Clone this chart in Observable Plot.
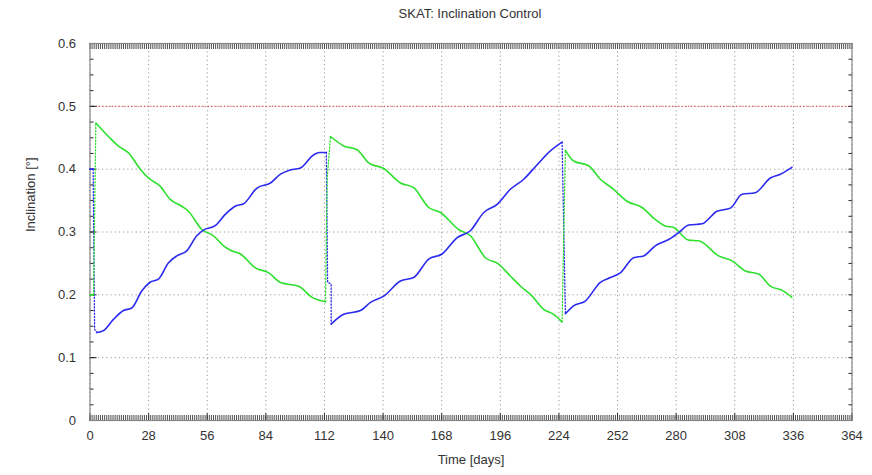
<!DOCTYPE html>
<html>
<head>
<meta charset="utf-8">
<script src="https://cdn.jsdelivr.net/npm/d3@7"></script>
<script src="https://cdn.jsdelivr.net/npm/@observablehq/plot@0.6"></script>
<style>
  body { margin: 0; background: #fff; font-family: "Liberation Sans Narrow", "Liberation Sans", Arial, sans-serif; }
  #wrap { position: relative; width: 872px; height: 475px; }
  #title { position: absolute; top: 6px; left: 470px; transform: translateX(-50%); font-size: 13px; color: #333; white-space: nowrap; }
  #chart { position: absolute; top: 30px; left: 0; }
</style>
</head>
<body>
<div id="wrap">
  <div id="title">SKAT: Inclination Control</div>
  <div id="chart"></div>
</div>
<script>
// ---- data ----
const xTicks = [0, 28, 56, 84, 112, 140, 168, 196, 224, 252, 280, 308, 336, 364];
const yTicks = [0, 0.1, 0.2, 0.3, 0.4, 0.5, 0.6];
const limit = 0.5;

// blue series: solid arcs (arc id per point)
const blueDay = [0, 1.5,
  3.3, 6.4, 11.2, 16, 20, 24.7, 28.7, 32.7, 37.5, 41.5, 46.2, 51, 54.2, 59.8, 64.6, 69.3, 73.4, 79.8, 86.2, 91, 94.9, 100.5, 106.9, 109.7, 112.9,
  115.2, 121.2, 129.2, 134, 140.3, 148.3, 154.6, 161.8, 168.2, 175.4, 181.7, 188.1, 194.5, 200.8, 207.2, 213.6, 219.9, 225.5,
  227.1, 231, 236.6, 243.8, 248.6, 253.3, 259.7, 264.5, 270, 276.4, 281.2, 286, 292.4, 299.5, 305.9, 311.5, 317.8, 325, 329.8, 335.3];
const blueInc = [0.4, 0.4,
  0.140, 0.143, 0.161, 0.175, 0.179, 0.206, 0.220, 0.225, 0.251, 0.262, 0.270, 0.294, 0.303, 0.310, 0.328, 0.341, 0.345, 0.370, 0.378, 0.392, 0.398, 0.402, 0.423, 0.4265, 0.4265,
  0.1535, 0.169, 0.175, 0.188, 0.198, 0.222, 0.2275, 0.257, 0.265, 0.291, 0.302, 0.331, 0.344, 0.368, 0.384, 0.407, 0.429, 0.443,
  0.170, 0.1825, 0.190, 0.220, 0.2275, 0.235, 0.259, 0.262, 0.278, 0.288, 0.299, 0.311, 0.313, 0.333, 0.338, 0.360, 0.3625, 0.386, 0.392, 0.403];
const blueArc = [0, 0,
  1, 1, 1, 1, 1, 1, 1, 1, 1, 1, 1, 1, 1, 1, 1, 1, 1, 1, 1, 1, 1, 1, 1, 1, 1,
  2, 2, 2, 2, 2, 2, 2, 2, 2, 2, 2, 2, 2, 2, 2, 2, 2, 2,
  3, 3, 3, 3, 3, 3, 3, 3, 3, 3, 3, 3, 3, 3, 3, 3, 3, 3, 3, 3];

// green series: solid arcs
const greenDay = [0, 1.7,
  2.8, 8.8, 13.6, 18.4, 24, 27.9, 33.5, 38.3, 43.8, 47, 53.4, 59, 63.8, 67.1, 71.9, 79, 85.4, 91, 99.7, 106.1, 112.5,
  114.9, 121.2, 127.6, 133.1, 140.3, 148.3, 154.6, 161.8, 167.4, 176.1, 181.7, 188.9, 195.2, 200.8, 205.6, 211.2, 216.7, 221.5, 225.5,
  227.1, 231, 238.2, 243.8, 250.1, 256.5, 263.7, 270, 274.8, 278.8, 286, 290.7, 300.3, 306.7, 313, 319.4, 325, 331.3, 335.3];
const greenInc = [0.2, 0.2,
  0.4735, 0.452, 0.4365, 0.426, 0.400, 0.386, 0.373, 0.352, 0.341, 0.333, 0.304, 0.294, 0.278, 0.271, 0.265, 0.243, 0.235, 0.2195, 0.2135, 0.196, 0.189,
  0.452, 0.437, 0.431, 0.410, 0.401, 0.378, 0.3705, 0.339, 0.331, 0.304, 0.294, 0.259, 0.249, 0.230, 0.214, 0.198, 0.177, 0.169, 0.157,
  0.430, 0.413, 0.4055, 0.384, 0.368, 0.349, 0.339, 0.320, 0.3095, 0.307, 0.287, 0.286, 0.262, 0.254, 0.238, 0.233, 0.214, 0.206, 0.196];
const greenArc = [0, 0,
  1, 1, 1, 1, 1, 1, 1, 1, 1, 1, 1, 1, 1, 1, 1, 1, 1, 1, 1, 1, 1,
  2, 2, 2, 2, 2, 2, 2, 2, 2, 2, 2, 2, 2, 2, 2, 2, 2, 2, 2,
  3, 3, 3, 3, 3, 3, 3, 3, 3, 3, 3, 3, 3, 3, 3, 3, 3, 3, 3];

// manoeuvre (dotted) transitions
const blueBurnDay = [1.5, 2.2, 3.3, 112.9, 113.5, 115.2, 115.2, 225.5, 227.1];
const blueBurnInc = [0.4, 0.145, 0.140, 0.4265, 0.22, 0.217, 0.1535, 0.443, 0.170];
const blueBurnId  = [0, 0, 0, 1, 1, 1, 1, 2, 2];
const greenBurnDay = [1.7, 2.8, 112.5, 113.3, 114.9, 225.5, 227.1];
const greenBurnInc = [0.2, 0.4735, 0.189, 0.386, 0.452, 0.157, 0.430];
const greenBurnId  = [0, 0, 1, 1, 1, 2, 2];

// ---- build tables ----
const mk = (xs, ys, ids) => xs.map((x, i) => ({x, y: ys[i], id: ids[i]}));
const blue = mk(blueDay, blueInc, blueArc);
const green = mk(greenDay, greenInc, greenArc);
const blueBurn = mk(blueBurnDay, blueBurnInc, blueBurnId);
const greenBurn = mk(greenBurnDay, greenBurnInc, greenBurnId);

const days = d3.range(0, 365, 1);
const yMinor = d3.range(0, 25).map(i => i * 0.025);

const BLUE = "#2a2af0";
const GREEN = "#2fe02f";

const chart = Plot.plot({
  width: 872,
  height: 445,
  marginLeft: 89.5,
  marginRight: 20.5,
  marginTop: 13,
  marginBottom: 55,
  style: { fontFamily: '"Liberation Sans Narrow", "Liberation Sans", Arial, sans-serif', fontSize: "13px", color: "#333", background: "#fff" },
  x: { domain: [0, 364] },
  y: { domain: [0, 0.6] },
  marks: [
    // grid
    Plot.gridX(xTicks, { stroke: "#999", strokeOpacity: 1, strokeDasharray: "1.2,3", strokeWidth: 1 }),
    Plot.gridY(yTicks, { stroke: "#999", strokeOpacity: 1, strokeDasharray: "1.2,3", strokeWidth: 1 }),
    // limit line
    Plot.ruleY([limit], { stroke: "#f03030", strokeDasharray: "1.2,2", strokeWidth: 1 }),
    // minor/major ticks inward
    Plot.axisX(days, { anchor: "bottom", tickSize: -5, text: null, stroke: "#222", strokeWidth: 0.8, label: null }),
    Plot.axisX(days, { anchor: "top", tickSize: -5, text: null, stroke: "#222", strokeWidth: 0.8, label: null }),
    Plot.axisX(xTicks, { anchor: "bottom", tickSize: -7, text: null, stroke: "#333", label: null }),
    Plot.axisY(yMinor, { anchor: "left", tickSize: -4, text: null, stroke: "#222", label: null }),
    Plot.axisY(yMinor, { anchor: "right", tickSize: -4, text: null, stroke: "#222", label: null }),
    Plot.axisY(yTicks, { anchor: "left", tickSize: -7, text: null, stroke: "#222", label: null }),
    // tick labels
    Plot.axisX(xTicks, { anchor: "bottom", tickSize: 0, tickPadding: 10, fill: "#333", label: null, fontSize: 13 }),
    Plot.axisY(yTicks, { anchor: "left", tickSize: 0, tickPadding: 14, fill: "#333", label: null, fontSize: 13, tickFormat: d => d === 0 ? "0" : d3.format(".1f")(d) }),
    // frame
    Plot.frame({ stroke: "#888", strokeWidth: 1.2 }),
    // series
    Plot.line(blueBurn, { x: "x", y: "y", z: "id", stroke: BLUE, strokeWidth: 1.3, strokeDasharray: "1.2,2" }),
    Plot.line(greenBurn, { x: "x", y: "y", z: "id", stroke: GREEN, strokeWidth: 1.3, strokeDasharray: "1.2,2" }),
    Plot.line(green, { x: "x", y: "y", z: "id", stroke: GREEN, strokeWidth: 1.6, curve: "monotone-x" }),
    Plot.line(blue, { x: "x", y: "y", z: "id", stroke: BLUE, strokeWidth: 1.6, curve: "monotone-x" }),
    // axis titles
    Plot.text(["Time [days]"], { frameAnchor: "bottom", dy: 43, fill: "#333", fontSize: 13 }),
    Plot.text(["Inclination [°]"], { frameAnchor: "left", dx: -59, rotate: -90, fill: "#333", fontSize: 13 })
  ]
});
document.getElementById("chart").appendChild(chart);
</script>
</body>
</html>
